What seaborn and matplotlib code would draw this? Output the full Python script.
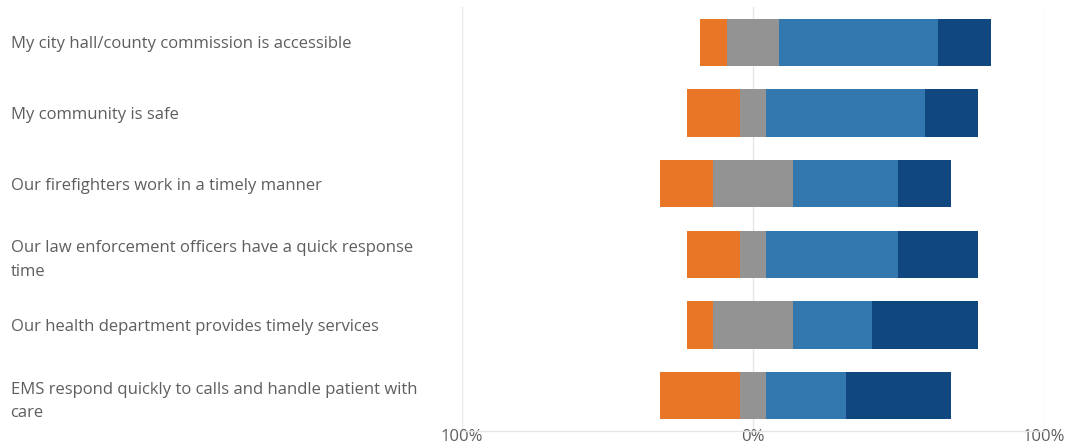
import numpy as np
import pandas as pd
import matplotlib
matplotlib.use("Agg")
import matplotlib.pyplot as plt
import seaborn as sns

# Survey statements and response shares (percent of respondents)
statements = [
    "My city hall/county commission is accessible",
    "My community is safe",
    "Our firefighters work in a timely manner",
    "Our law enforcement officers have a quick response\ntime",
    "Our health department provides timely services",
    "EMS respond quickly to calls and handle patient with\ncare",
]
disagree = [9.09, 18.18, 18.18, 18.18, 9.09, 27.27]
neutral = [18.18, 9.09, 27.27, 9.09, 27.27, 9.09]
agree = [54.55, 54.55, 36.36, 45.45, 27.27, 27.27]
strongly_agree = [18.18, 18.18, 18.18, 27.27, 36.36, 36.36]
tick_values = [-100, 0, 100]
tick_labels = ["100%", "0%", "100%"]

colors = {
    "disagree": "#E97627",
    "neutral": "#939393",
    "agree": "#3277AE",
    "strongly_agree": "#0F477E",
}
text_color = "#605E5C"

sns.set_theme(style="white")
plt.rcParams["font.family"] = ["Open Sans", "DejaVu Sans"]

df = pd.DataFrame({
    "statement": statements,
    "disagree": disagree,
    "neutral": neutral,
    "agree": agree,
    "strongly_agree": strongly_agree,
})
half = df["neutral"] / 2
# Extents of each segment measured from zero, neutral split across the centre
df["end_sa"] = half + df["agree"] + df["strongly_agree"]
df["end_agree"] = half + df["agree"]
df["end_neutral_pos"] = half
df["end_disagree"] = -(half + df["disagree"])
df["end_neutral_neg"] = -half

fig = plt.figure(figsize=(10.67, 4.47), dpi=100)
ax = fig.add_axes([462 / 1067, 16 / 447, 582 / 1067, 424 / 447])

layers = [
    ("end_sa", colors["strongly_agree"]),
    ("end_agree", colors["agree"]),
    ("end_neutral_pos", colors["neutral"]),
    ("end_disagree", colors["disagree"]),
    ("end_neutral_neg", colors["neutral"]),
]
for col, c in layers:
    sns.barplot(data=df, x=col, y="statement", orient="h", color=c,
                width=0.67, linewidth=0, saturation=1, ax=ax, zorder=3)

ax.set_xlim(-100, 100)
ax.set_ylim(5.5, -0.5)
ax.set_xlabel("")
ax.set_ylabel("")
ax.set_xticks(tick_values)
ax.set_xticklabels(tick_labels)

for x in tick_values:
    ax.axvline(x, color="#E6E6E6", linewidth=1, zorder=0)

for s in ["top", "right", "left"]:
    ax.spines[s].set_visible(False)
ax.spines["bottom"].set_color("#E6E6E6")
ax.spines["bottom"].set_linewidth(1)

ax.tick_params(axis="x", length=0, pad=-1.5, labelsize=12, labelcolor=text_color)
ax.tick_params(axis="y", length=0, pad=325, labelsize=12, labelcolor=text_color)
for lbl in ax.get_yticklabels():
    lbl.set_horizontalalignment("left")
    lbl.set_linespacing(1.6)

fig.savefig("out.png", dpi=100, facecolor="white")
